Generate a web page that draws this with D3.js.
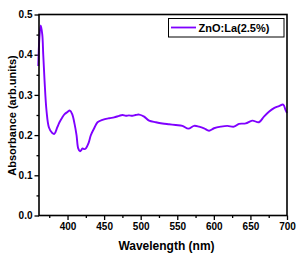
<!DOCTYPE html>
<html><head><meta charset="utf-8">
<script src="https://cdn.jsdelivr.net/npm/d3@7"></script>
<style>body{margin:0;background:#fff}svg{display:block}text{font-family:"Liberation Sans",Arial,sans-serif;font-weight:bold}</style>
</head><body><svg id="c" width="301" height="263"></svg>
<script>
const wavelength = [360,361.5,363.4,365.5,366.8,368.6,371.3,374.6,379.1,382,385.9,389,392.8,396,399.6,403.3,406.4,409.6,412.3,414.6,416.9,418.5,420.5,423,425.1,428.7,431.9,436.4,441,447.8,456.9,463.7,470.6,475.1,479.7,484,488.7,493,497.9,504.7,511.5,520.7,529.7,538.8,548,557,565.2,573,579.8,586.6,593.4,600.2,609.4,618.4,627.5,634.4,643.5,652.5,661.7,668.5,675.3,682.2,689,694.8,698.1,700];
const absorbance = [0.372,0.44,0.473,0.45,0.40,0.335,0.26,0.219,0.205,0.203,0.219,0.232,0.244,0.252,0.257,0.261,0.252,0.228,0.200,0.167,0.160,0.162,0.167,0.165,0.167,0.18,0.20,0.217,0.232,0.238,0.242,0.244,0.248,0.25,0.248,0.249,0.248,0.25,0.251,0.246,0.236,0.232,0.229,0.227,0.225,0.223,0.216,0.223,0.221,0.217,0.211,0.217,0.221,0.223,0.221,0.228,0.229,0.236,0.232,0.246,0.258,0.267,0.272,0.276,0.262,0.255];
const xTicks = [400,450,500,550,600,650,700];
const xMinor = [375,425,475,525,575,625,675];
const yTicks = [0.0,0.1,0.2,0.3,0.4,0.5];
const yMinor = [0.05,0.15,0.25,0.35,0.45];
const seriesName = "ZnO:La(2.5%)";
const xTitle = "Wavelength (nm)";
const yTitle = "Absorbance (arb.units)";

const L=39,R=287,T=14.5,B=215.5;
const svg=d3.select("#c");
const x=d3.scaleLinear().domain([361,700]).range([L,R]);
const y=d3.scaleLinear().domain([0,0.5]).range([B,T]);
const color="#7f00ff";

const gx=svg.append("g").attr("transform",`translate(0,${B})`);
gx.call(d3.axisBottom(x).tickValues(xMinor).tickSize(2.5).tickFormat(""));
gx.select(".domain").remove();
const gxM=svg.append("g").attr("transform",`translate(0,${B})`)
  .call(d3.axisBottom(x).tickValues(xTicks).tickSize(4.5).tickPadding(3).tickFormat(d3.format("d")));
gxM.select(".domain").remove();
gxM.selectAll("text").attr("font-size","10px").attr("fill","#000");
const gy=svg.append("g").attr("transform",`translate(${L},0)`);
gy.call(d3.axisLeft(y).tickValues(yMinor).tickSize(2.5).tickFormat(""));
gy.select(".domain").remove();
const gyM=svg.append("g").attr("transform",`translate(${L},0)`)
  .call(d3.axisLeft(y).tickValues(yTicks).tickSize(4.5).tickPadding(2).tickFormat(d3.format(".1f")));
gyM.select(".domain").remove();
gyM.selectAll("text").attr("font-size","10px").attr("fill","#000");
svg.selectAll(".tick line").attr("stroke","#000").attr("stroke-width",1.3);

const line=d3.line().x((d,i)=>x(wavelength[i])).y(d=>y(d)).curve(d3.curveCatmullRom.alpha(0.5));
svg.append("path").datum(absorbance).attr("d",line).attr("fill","none")
  .attr("stroke",color).attr("stroke-width",1.9).attr("stroke-linejoin","round");

svg.append("rect").attr("x",L).attr("y",T).attr("width",R-L).attr("height",B-T)
  .attr("fill","none").attr("stroke","#000").attr("stroke-width",1.6);

svg.append("rect").attr("x",168.5).attr("y",18.5).attr("width",115.5).attr("height",18.5)
  .attr("fill","#fff").attr("stroke","#000").attr("stroke-width",1);
svg.append("line").attr("x1",171).attr("x2",196).attr("y1",27.5).attr("y2",27.5)
  .attr("stroke",color).attr("stroke-width",1.8);
svg.append("text").attr("x",198.5).attr("y",31.5).attr("font-size","11px").text(seriesName);

svg.append("text").attr("x",166.5).attr("y",249.5).attr("text-anchor","middle").attr("font-size","12px").text(xTitle);
svg.append("text").attr("transform","translate(15.5,115.5) rotate(-90)").attr("text-anchor","middle").attr("font-size","11px").text(yTitle);
</script></body></html>
